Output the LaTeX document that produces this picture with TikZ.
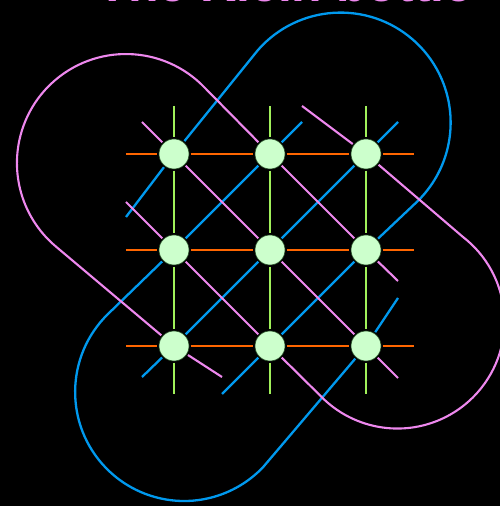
\documentclass[tikz,border=0pt]{standalone}
\usepackage{fontspec}
\setmainfont{Liberation Sans}
\definecolor{lgreen}{RGB}{160,240,90}
\definecolor{lorange}{RGB}{255,102,0}
\definecolor{lblue}{RGB}{0,153,238}
\definecolor{lpink}{RGB}{238,136,238}
\definecolor{nodefill}{RGB}{204,255,204}
\definecolor{nodeline}{RGB}{40,80,40}
\pgfdeclarelayer{bg}
\pgfdeclarelayer{lines}
\pgfsetlayers{bg,lines,main}
\begin{document}
\begin{tikzpicture}[x=1pt,y=1pt,
  vtx/.style={circle, fill=nodefill, draw=nodeline, line width=0.6pt, minimum size=30pt, inner sep=0pt, outer sep=1.6pt},
  gline/.style={draw=lgreen, line width=2.4pt},
  oline/.style={draw=lorange, line width=2.5pt},
  bline/.style={draw=lblue, line width=2.3pt},
  pline/.style={draw=lpink, line width=2.1pt},
  titletext/.style={text=lpink, font=\fontsize{50}{60}\selectfont\bfseries, anchor=base, inner sep=0pt}]
\useasboundingbox (0,0) rectangle (500,506);
\begin{pgfonlayer}{bg}
\fill[black] (0,0) rectangle (500,506);
\end{pgfonlayer}
% title (mostly cut off)
\node[titletext] (title) at (285,504.2) {The Klein bottle};
% vertices
\node[vtx] (n11) at (174,352) {};
\node[vtx] (n12) at (270,352) {};
\node[vtx] (n13) at (366,352) {};
\node[vtx] (n21) at (174,256) {};
\node[vtx] (n22) at (270,256) {};
\node[vtx] (n23) at (366,256) {};
\node[vtx] (n31) at (174,160) {};
\node[vtx] (n32) at (270,160) {};
\node[vtx] (n33) at (366,160) {};
% free ends
\coordinate (g1t) at (174,400); \coordinate (g1b) at (174,112);
\coordinate (g2t) at (270,400); \coordinate (g2b) at (270,112);
\coordinate (g3t) at (366,400); \coordinate (g3b) at (366,112);
\coordinate (o1l) at (126,352); \coordinate (o1r) at (414,352);
\coordinate (o2l) at (126,256); \coordinate (o2r) at (414,256);
\coordinate (o3l) at (126,160); \coordinate (o3r) at (414,160);
\coordinate (b1a) at (142,129); \coordinate (b1b) at (398,384);
\coordinate (b2b) at (302,384);
\coordinate (b3a) at (222,112);
\coordinate (b4a) at (126,289);
\coordinate (b5b) at (398,208);
\coordinate (la1) at (258,456);
\coordinate (lb1) at (108,192);
\coordinate (p1a) at (142,384); \coordinate (p1b) at (398,128);
\coordinate (p2b) at (398,225);
\coordinate (p3a) at (126,304);
\coordinate (p4a) at (302,400);
\coordinate (p5b) at (222,129);
\coordinate (ll1) at (205,418);
\coordinate (lr1) at (463,269);
\begin{pgfonlayer}{lines}
% green verticals
\draw[gline] (g1t) -- (n11) -- (n21) -- (n31) -- (g1b);
\draw[gline] (g2t) -- (n12) -- (n22) -- (n32) -- (g2b);
\draw[gline] (g3t) -- (n13) -- (n23) -- (n33) -- (g3b);
% orange horizontals
\draw[oline] (o1l) -- (n11) -- (n12) -- (n13) -- (o1r);
\draw[oline] (o2l) -- (n21) -- (n22) -- (n23) -- (o2r);
\draw[oline] (o3l) -- (n31) -- (n32) -- (n33) -- (o3r);
% blue diagonals
\draw[bline] (b1a) -- (n31) -- (n22) -- (n13) -- (b1b);
\draw[bline] (b4a) -- (n11) -- (la1) arc[start angle=138.7, end angle=-46.5, radius=110] -- (n23) -- (n32) -- (b3a);
\draw[bline] (b2b) -- (n12) -- (n21) -- (lb1) arc[start angle=134.3, end angle=316.5, radius=109] -- (n33) -- (b5b);
% pink diagonals
\draw[pline] (p1a) -- (n11) -- (n22) -- (n33) -- (p1b);
\draw[pline] (p2b) -- (n23) -- (n12) -- (ll1) arc[start angle=43.5, end angle=230, radius=109] -- (n31) -- (p5b);
\draw[pline] (p4a) -- (n13) -- (lr1) arc[start angle=52.2, end angle=-136.5, radius=107] -- (n32) -- (n21) -- (p3a);
\end{pgfonlayer}
\end{tikzpicture}
\end{document}
